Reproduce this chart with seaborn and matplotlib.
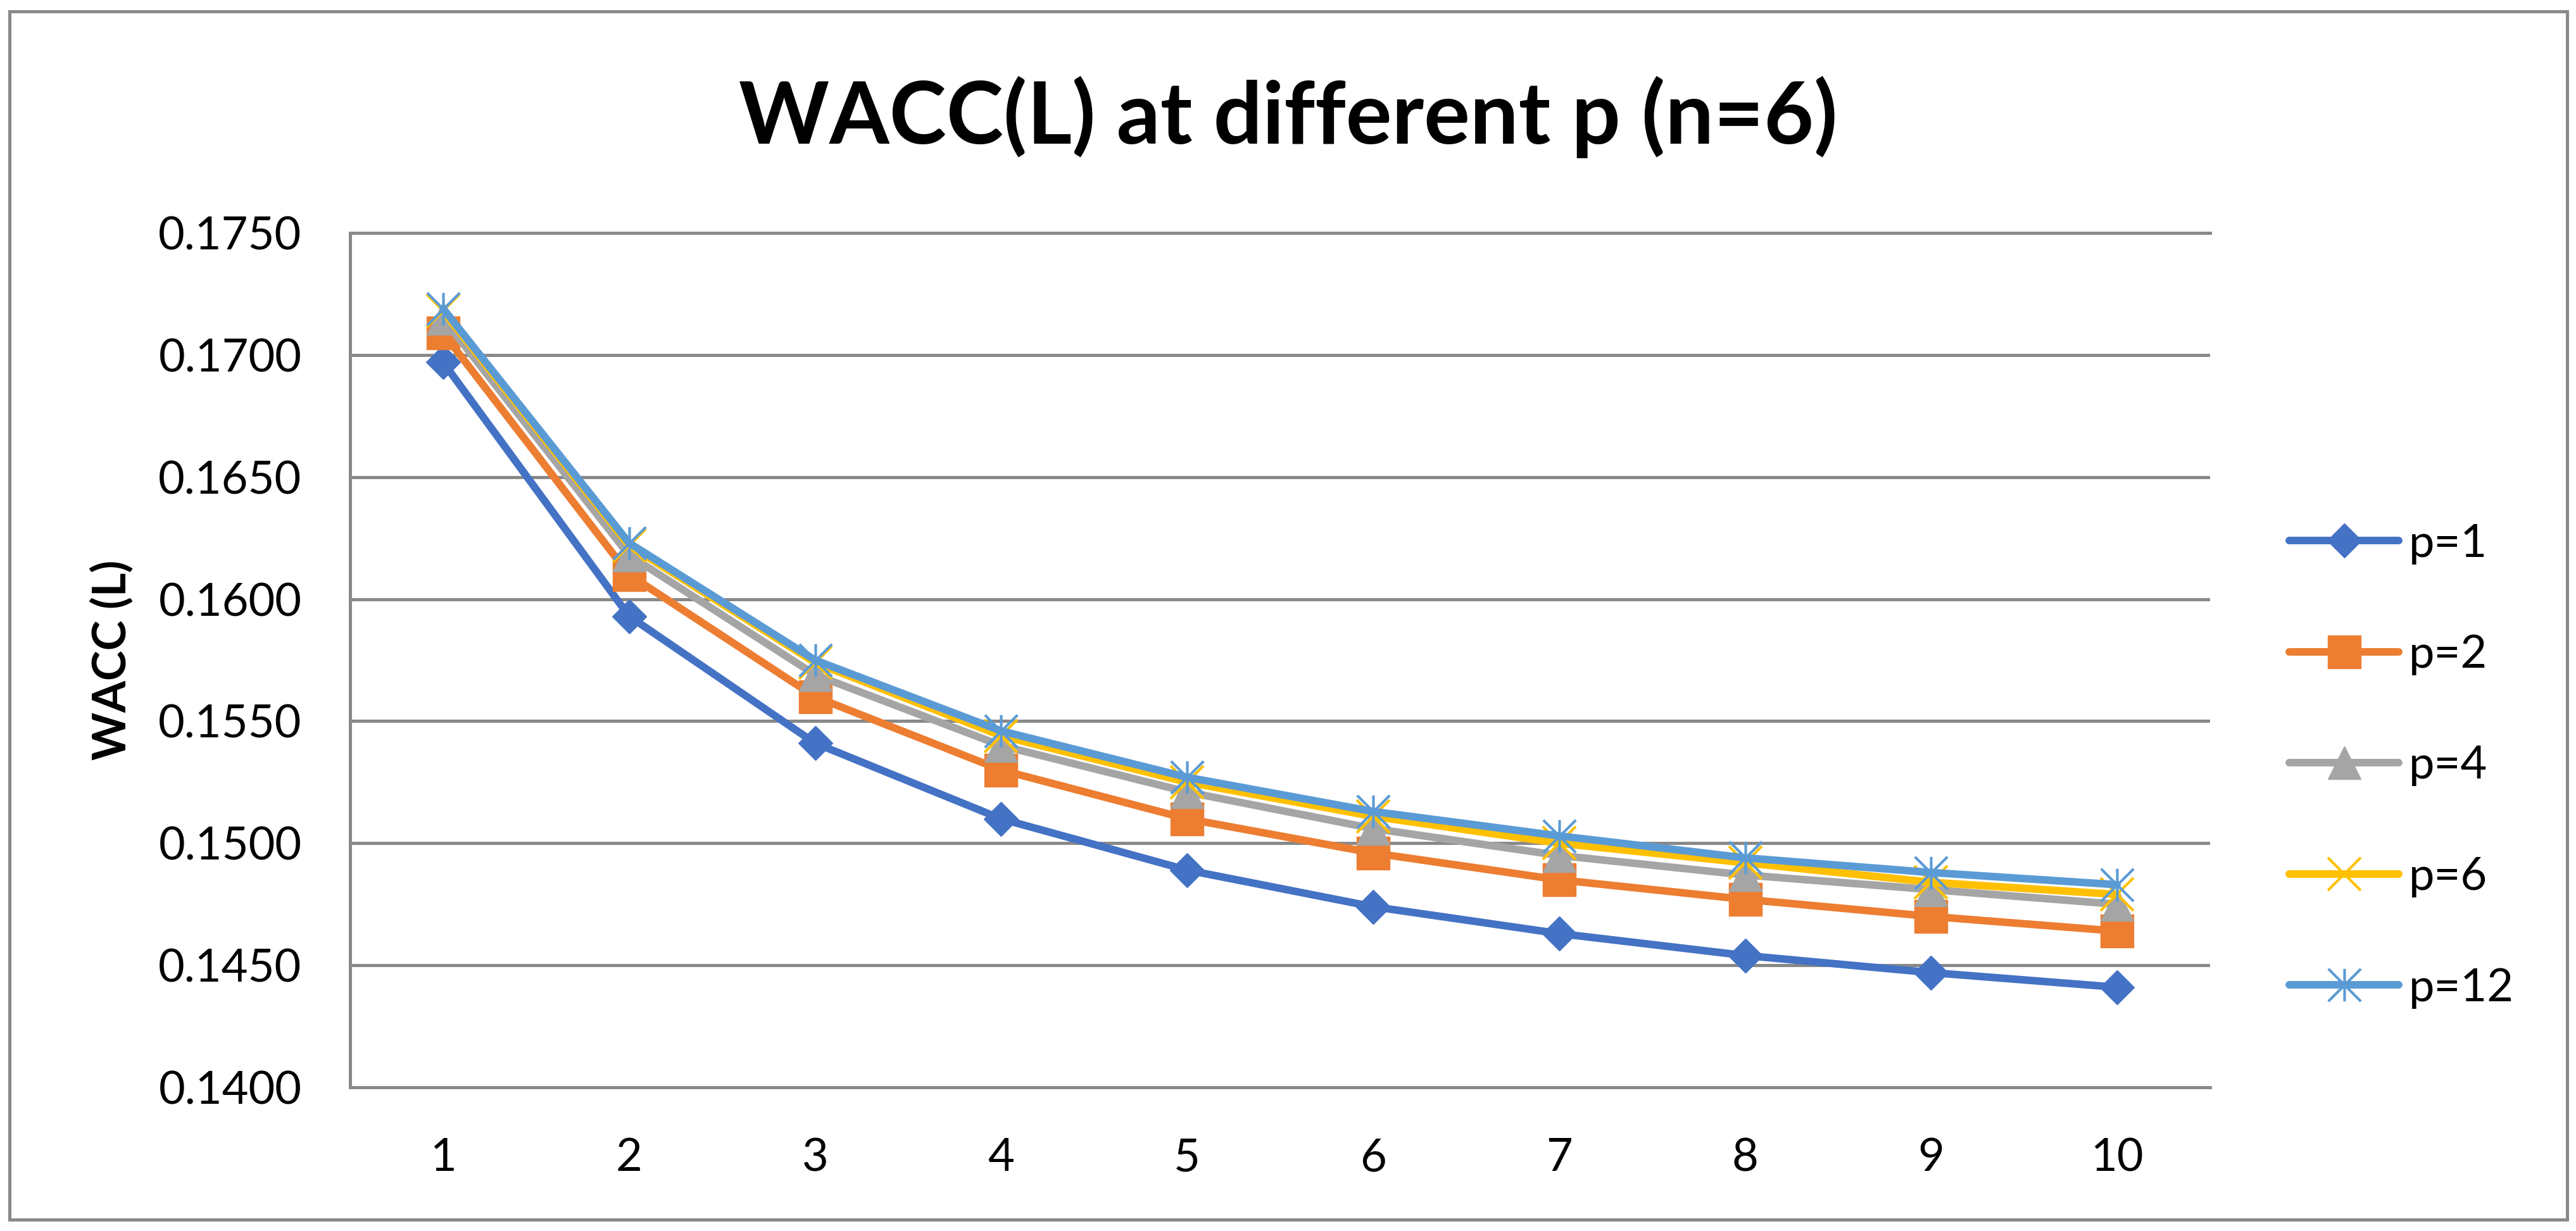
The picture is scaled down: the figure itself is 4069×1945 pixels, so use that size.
import matplotlib
matplotlib.use("Agg")
import matplotlib.pyplot as plt
import seaborn as sns
import pandas as pd
from matplotlib.path import Path
from matplotlib.patches import Rectangle

# ---------------- data ----------------
periods = [1, 2, 3, 4, 5, 6, 7, 8, 9, 10]
series_labels = ["p=1", "p=2", "p=4", "p=6", "p=12"]
wacc_p1 = [0.1697, 0.1593, 0.1541, 0.1510, 0.1489, 0.1474, 0.1463, 0.1454, 0.1447, 0.1441]
wacc_p2 = [0.1709, 0.1610, 0.1560, 0.1530, 0.1510, 0.1496, 0.1485, 0.1477, 0.1470, 0.1464]
wacc_p4 = [0.1715, 0.1618, 0.1569, 0.1540, 0.1521, 0.1506, 0.1495, 0.1487, 0.1481, 0.1475]
wacc_p6 = [0.1718, 0.1622, 0.1574, 0.1544, 0.1525, 0.1511, 0.1500, 0.1492, 0.1484, 0.1479]
wacc_p12 = [0.1719, 0.1623, 0.1575, 0.1546, 0.1527, 0.1513, 0.1503, 0.1494, 0.1488, 0.1483]
series_values = [wacc_p1, wacc_p2, wacc_p4, wacc_p6, wacc_p12]
y_ticks = [0.1400, 0.1450, 0.1500, 0.1550, 0.1600, 0.1650, 0.1700, 0.1750]
y_tick_labels = ["0.1400", "0.1450", "0.1500", "0.1550", "0.1600", "0.1650", "0.1700", "0.1750"]
x_tick_labels = ["1", "2", "3", "4", "5", "6", "7", "8", "9", "10"]
title_text = "WACC(L) at different p (n=6)"
y_label_text = "WACC (L)"

# ---------------- style ----------------
sns.set_theme(style="white")
plt.rcParams["font.family"] = ["Lato", "DejaVu Sans"]
plt.rcParams["text.color"] = "black"
plt.rcParams["axes.labelcolor"] = "black"

W, H = 4069, 1945
GRID = "#898989"
fig = plt.figure(figsize=(W / 100, H / 100), dpi=100)
ax = fig.add_axes([553 / W, 1 - 1718 / H, (3491 - 553) / W, (1718 - 368) / H])

asterisk = Path([(-1, -1), (1, 1), (-1, 1), (1, -1), (0, -1), (0, 1)],
                [Path.MOVETO, Path.LINETO, Path.MOVETO, Path.LINETO, Path.MOVETO, Path.LINETO])

colors = ["#4472C4", "#ED7D31", "#A5A5A5", "#FFC000", "#5B9BD5"]
marker_kws = [
    dict(marker="D", markersize=27, markeredgewidth=1, markerfacecolor=colors[0], markeredgecolor=colors[0]),
    dict(marker="s", markersize=38, markeredgewidth=1, markerfacecolor=colors[1], markeredgecolor=colors[1]),
    dict(marker="^", markersize=38, markeredgewidth=1, markerfacecolor=colors[2], markeredgecolor=colors[2]),
    dict(marker="x", markersize=37, markeredgewidth=3, markeredgecolor=colors[3]),
    dict(marker=asterisk, markersize=37, markeredgewidth=3, markerfacecolor="none", markeredgecolor=colors[4]),
]

for i, (lab, vals) in enumerate(zip(series_labels, series_values)):
    df = pd.DataFrame({"period": periods, "wacc": vals})
    sns.lineplot(data=df, x="period", y="wacc", ax=ax, color=colors[i], linewidth=8.6,
                 label=lab, legend=False, solid_capstyle="round", solid_joinstyle="round",
                 zorder=3 + i, **marker_kws[i])

ax.set_xlim(0.5, 10.5)
ax.set_ylim(0.14, 0.175)
ax.set_xticks(periods)
ax.set_xticklabels(x_tick_labels)
ax.set_yticks(y_ticks)
ax.set_yticklabels(y_tick_labels)
ax.set_xlabel("")
ax.set_ylabel(y_label_text, fontsize=52, fontweight="bold", va="center", color="black")
ax.yaxis.set_label_coords((177 - 553) / (3491 - 553), 0.5)

ax.tick_params(axis="both", length=0, labelsize=52, labelcolor="black")
ax.tick_params(axis="y", pad=55)
ax.tick_params(axis="x", pad=57)

ax.grid(axis="y", color=GRID, linewidth=3.6)
ax.grid(axis="x", visible=False)
ax.set_axisbelow(True)
for side in ["top", "bottom", "left"]:
    ax.spines[side].set_color(GRID)
    ax.spines[side].set_linewidth(3.6)
ax.spines["right"].set_visible(False)

fig.suptitle(title_text, x=0.5, y=1 - 185 / H, va="center", fontsize=98,
             fontweight="bold", color="black")

leg = ax.legend(loc="center left", bbox_to_anchor=(3616 / W, 1 - 1210 / H),
                bbox_transform=fig.transFigure, frameon=False, fontsize=52,
                handlelength=2.4, handletextpad=0.22, labelspacing=1.53,
                borderpad=0, borderaxespad=0, numpoints=1, labelcolor="black")

fig.add_artist(Rectangle((14.5 / W, 1 - 1927 / H), (4054.5 - 14.5) / W, (1927 - 17.5) / H,
                         transform=fig.transFigure, fill=False, edgecolor=GRID, linewidth=3.6))

fig.savefig("out.png", dpi=100, facecolor="white")
